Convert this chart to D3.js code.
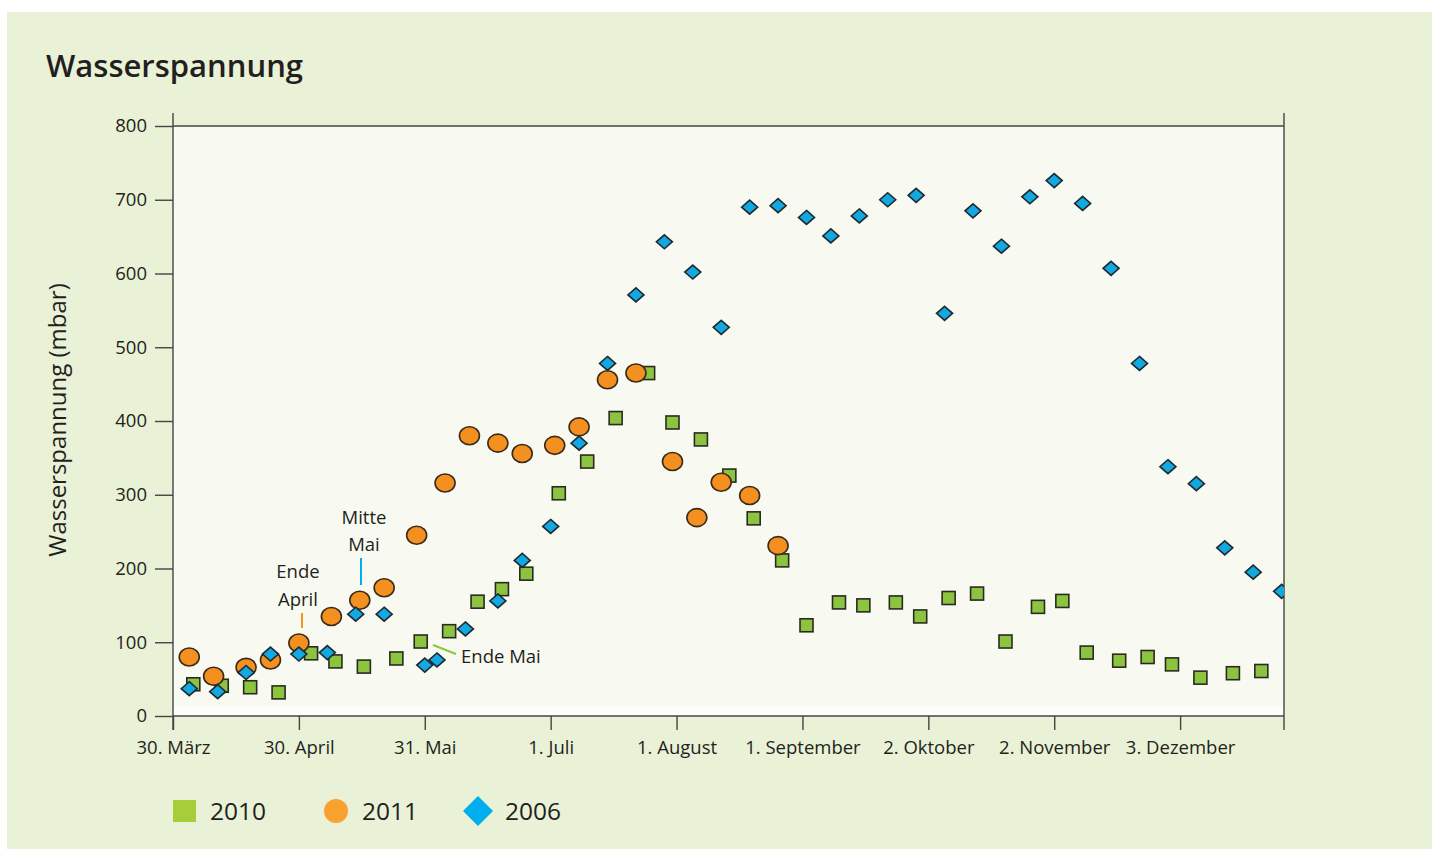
<!DOCTYPE html>
<html>
<head>
<meta charset="utf-8">
<script src="https://cdn.jsdelivr.net/npm/d3@7"></script>
<style>
  body { margin: 0; background: #fff; font-family: "Open Sans", sans-serif; }
  text { fill: #231f20; }
</style>
</head>
<body>
<svg id="chart" width="1432" height="849"></svg>
<script>
//Measurement dates (day.month) and values in mbar for every year
let dates2010 = ["04.04","11.04","18.04","25.04","03.05","09.05","16.05","24.05","30.05","06.06","13.06","19.06","25.06",
  "03.07","10.07","17.07","25.07","31.07","07.08","14.08","20.08","27.08","02.09","10.09","16.09","24.09","30.09",
  "07.10","14.10","21.10","29.10","04.11","10.11","18.11","25.11","01.12","08.12","16.12","23.12"];
let values2010 = [43,41,39,32,85,74,67,78,101,115,155,172,193,
  302,345,404,465,398,375,326,268,211,123,154,150,154,135,
  160,166,101,148,156,86,75,80,70,52,58,61];

let dates2011 = ["03.04","09.04","17.04","23.04","30.04","08.05","15.05","21.05","29.05","05.06","11.06","18.06","24.06",
  "02.07","08.07","15.07","22.07","31.07","06.08","12.08","19.08","26.08"];
let values2011 = [80,54,66,76,99,135,157,174,245,316,380,370,356,367,392,456,465,345,269,317,299,231];

let dates2006 = ["03.04","10.04","17.04","23.04","30.04","07.05","14.05","21.05","31.05","03.06","10.06","18.06","24.06",
  "01.07","08.07","15.07","22.07","29.07","05.08","12.08","19.08","26.08","02.09","08.09","15.09","22.09","29.09",
  "06.10","13.10","20.10","27.10","02.11","09.11","16.11","23.11","30.11","07.12","14.12","21.12","28.12"];
let values2006 = [37,33,59,84,84,86,138,138,69,76,118,156,211,
  257,370,478,571,643,602,527,690,692,676,651,678,700,706,
  546,685,637,704,726,695,607,478,338,315,228,195,169];

//Axis ticks
let xTickDates = ["30.03","30.04","31.05","01.07","01.08","01.09","02.10","02.11","03.12"];
let xTickLabels = ["30. März","30. April","31. Mai","1. Juli","1. August","1. September","2. Oktober","2. November","3. Dezember"];
let yTicks = [0,100,200,300,400,500,600,700,800];

//All dates are put in one dummy year
let parseDay = d3.utcParse("%d.%m.%Y");
function toDate(s) { return parseDay(s + ".2010"); }

let plot = { left: 173, right: 1284, top: 126, bottom: 716 };

let x = d3.scaleUtc()
  .domain([toDate("30.03"), d3.utcHour.offset(toDate("28.12"), 14)])
  .range([plot.left, plot.right]);
let y = d3.scaleLinear().domain([0, 800]).range([plot.bottom, plot.top]);

let svg = d3.select("#chart");

//green panel
svg.append("rect").attr("x", 7).attr("y", 12).attr("width", 1425).attr("height", 837).attr("fill", "#e9f2d6");

//plot background
svg.append("rect").attr("x", plot.left).attr("y", plot.top)
  .attr("width", plot.right - plot.left).attr("height", plot.bottom - plot.top).attr("fill", "#f8faf1");
svg.append("rect").attr("x", plot.left).attr("y", plot.bottom - 10)
  .attr("width", plot.right - plot.left).attr("height", 10).attr("fill", "#fdfefb");

//title
svg.append("text").attr("x", 46).attr("y", 77)
  .style("font-size", "31px").style("font-weight", 600).text("Wasserspannung");

//y axis
let yAxis = svg.append("g").attr("transform", "translate(" + plot.left + ",0)")
  .call(d3.axisLeft(y).tickValues(yTicks).tickSize(18).tickPadding(8));
//x axis
let xAxis = svg.append("g").attr("transform", "translate(0," + plot.bottom + ")")
  .call(d3.axisBottom(x).tickValues(xTickDates.map(toDate))
    .tickFormat(function (d, i) { return xTickLabels[i]; })
    .tickSize(14).tickPadding(11));
[yAxis, xAxis].forEach(function (a) {
  a.select(".domain").remove();
  a.selectAll("line").attr("stroke", "#444").attr("stroke-width", 1.4);
  a.selectAll("text").style("font-size", "18.5px").style("font-family", "Open Sans").attr("fill", "#231f20");
});

//frame lines
let frame = svg.append("g").attr("stroke", "#444").attr("stroke-width", 1.4);
frame.append("line").attr("x1", plot.left).attr("x2", plot.left).attr("y1", 113).attr("y2", plot.bottom + 14);
frame.append("line").attr("x1", plot.right).attr("x2", plot.right).attr("y1", 113).attr("y2", plot.bottom + 14);
frame.append("line").attr("x1", plot.left).attr("x2", plot.right).attr("y1", plot.top).attr("y2", plot.top);
frame.append("line").attr("x1", plot.left).attr("x2", plot.right).attr("y1", plot.bottom).attr("y2", plot.bottom);

//y axis name
svg.append("text").attr("transform", "translate(66,420) rotate(-90)")
  .attr("text-anchor", "middle").style("font-size", "24px").text("Wasserspannung (mbar)");

//clip the markers to the plot
svg.append("clipPath").attr("id", "clip").append("rect")
  .attr("x", plot.left).attr("y", plot.top - 10)
  .attr("width", plot.right - plot.left).attr("height", plot.bottom - plot.top + 10);
let marks = svg.append("g").attr("clip-path", "url(#clip)");

function series(dates, values) {
  return dates.map(function (d, i) { return { date: toDate(d), value: values[i] }; });
}

//2010 squares
marks.selectAll(".sq").data(series(dates2010, values2010)).enter().append("rect")
  .attr("class", "sq")
  .attr("x", function (d) { return x(d.date) - 6.5; })
  .attr("y", function (d) { return y(d.value) - 6.5; })
  .attr("width", 13).attr("height", 13)
  .attr("fill", "#8cc43f").attr("stroke", "#2a2a22").attr("stroke-width", 1.6);

//2011 circles
marks.selectAll(".ci").data(series(dates2011, values2011)).enter().append("ellipse")
  .attr("class", "ci")
  .attr("cx", function (d) { return x(d.date); })
  .attr("cy", function (d) { return y(d.value); })
  .attr("rx", 10).attr("ry", 9)
  .attr("fill", "#f39020").attr("stroke", "#3a2a1a").attr("stroke-width", 1.6);

//2006 diamonds
marks.selectAll(".di").data(series(dates2006, values2006)).enter().append("path")
  .attr("class", "di")
  .attr("transform", function (d) { return "translate(" + x(d.date) + "," + y(d.value) + ")"; })
  .attr("d", "M0,-7L8,0L0,7L-8,0Z")
  .attr("fill", "#12a8e2").attr("stroke", "#1e2a30").attr("stroke-width", 1.6);

//annotations
let notes = svg.append("g").style("font-size", "18.5px");
notes.append("text").attr("x", 298).attr("y", 578).attr("text-anchor", "middle").text("Ende");
notes.append("text").attr("x", 298).attr("y", 606).attr("text-anchor", "middle").text("April");
notes.append("line").attr("x1", 302).attr("x2", 302).attr("y1", 613).attr("y2", 628)
  .attr("stroke", "#f7941d").attr("stroke-width", 2);
notes.append("text").attr("x", 364).attr("y", 524).attr("text-anchor", "middle").text("Mitte");
notes.append("text").attr("x", 364).attr("y", 551).attr("text-anchor", "middle").text("Mai");
notes.append("line").attr("x1", 361).attr("x2", 361).attr("y1", 558).attr("y2", 585)
  .attr("stroke", "#00aeef").attr("stroke-width", 2);
notes.append("text").attr("x", 461).attr("y", 663).text("Ende Mai");
notes.append("line").attr("x1", 433).attr("x2", 456).attr("y1", 645).attr("y2", 654)
  .attr("stroke", "#8dc63f").attr("stroke-width", 2);

//legend
let legend = svg.append("g").style("font-size", "24.5px");
legend.append("rect").attr("x", 173).attr("y", 800).attr("width", 23).attr("height", 22).attr("fill", "#a6ce39");
legend.append("text").attr("x", 210).attr("y", 820).text("2010");
legend.append("circle").attr("cx", 336).attr("cy", 811).attr("r", 12).attr("fill", "#f9a12e");
legend.append("text").attr("x", 362).attr("y", 820).text("2011");
legend.append("path").attr("transform", "translate(478,811)").attr("d", "M0,-15L15,0L0,15L-15,0Z").attr("fill", "#00aeef");
legend.append("text").attr("x", 505).attr("y", 820).text("2006");
</script>
</body>
</html>
